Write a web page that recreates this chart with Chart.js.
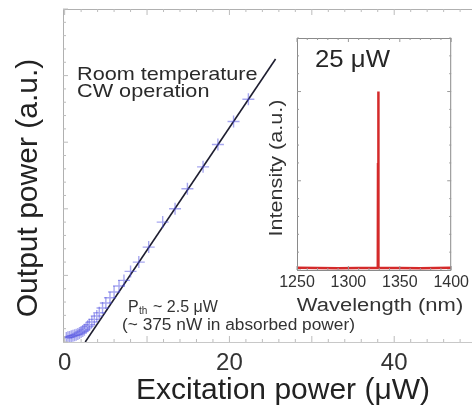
<!DOCTYPE html>
<html>
<head>
<meta charset="utf-8">
<script src="https://cdn.jsdelivr.net/npm/chart.js@4/dist/chart.umd.min.js"></script>
<style>
  html, body { margin: 0; padding: 0; background: #fff; overflow: hidden; }
  #wrap { position: relative; width: 472px; height: 405px; overflow: hidden; background: #fff; }
  #main { position: absolute; left: 0; top: 0; }
  #inset { position: absolute; left: 255px; top: 30px; }
</style>
</head>
<body>
<div id="wrap">
  <canvas id="main" width="484" height="405" style="width:484px;height:405px"></canvas>
  <canvas id="inset" width="217" height="285" style="width:217px;height:285px"></canvas>
</div>
<script>
// ---- data ----
const excitationPower = [0.2,0.4,0.6,0.8,1.0,1.2,1.4,1.6,1.8,2.0,2.2,2.4,2.6,2.8,3.0,3.3,3.6,3.9,4.2,4.6,5.0,5.5,6.0,6.6,7.2,8.0,9.0,10.2,11.9,13.4,14.9,16.8,18.6,20.5,22.3];
const outputPower     = [0.12,0.14,0.15,0.17,0.19,0.2,0.22,0.24,0.27,0.3,0.33,0.37,0.42,0.47,0.52,0.6,0.68,0.78,0.88,1.02,1.17,1.33,1.5,1.68,1.85,2.12,2.4,2.85,3.6,4.0,4.6,5.26,5.93,6.62,7.29];
const fitExcitation   = [2.5, 25.6];
const fitOutput       = [0, 8.5];
const mainXTicks      = [0, 20, 40];
const wavelength      = [1250, 1290, 1328.6, 1328.8, 1329, 1329.2, 1329.4, 1370, 1400];
const intensity       = [0.012, 0.01, 0.012, 0.6, 1.0, 0.6, 0.012, 0.01, 0.012];
const insetXTicks     = [1250, 1300, 1350, 1400];

const FONT = '"Liberation Sans", Arial, sans-serif';

function drawText(ctx, text, x, y, size, opts) {
  opts = opts || {};
  ctx.save();
  ctx.translate(x, y);
  if (opts.rot) ctx.rotate(opts.rot);
  ctx.scale(opts.sx || 1, 1);
  ctx.font = (opts.weight || 'normal') + ' ' + size + 'px ' + FONT;
  ctx.fillStyle = opts.color || '#262626';
  ctx.textAlign = opts.align || 'left';
  ctx.textBaseline = 'alphabetic';
  ctx.fillText(text, 0, 0);
  ctx.restore();
}

function ticksAlong(ctx, scale, from, to, step, majorEvery, fixedPos, horizontal, dir, minorLen, majorLen) {
  for (let v = from; v <= to + 1e-9; v += step) {
    const p = scale.getPixelForValue(v);
    const isMajor = Math.abs(v / majorEvery - Math.round(v / majorEvery)) < 1e-6;
    const len = isMajor ? majorLen : minorLen;
    ctx.beginPath();
    if (horizontal) { ctx.moveTo(p, fixedPos); ctx.lineTo(p, fixedPos + dir * len); }
    else { ctx.moveTo(fixedPos, p); ctx.lineTo(fixedPos + dir * len, p); }
    ctx.stroke();
  }
}

const mainDecor = {
  id: 'mainDecor',
  afterDraw(chart) {
    const ctx = chart.ctx, a = chart.chartArea, x = chart.scales.x, y = chart.scales.y;
    ctx.save();
    ctx.strokeStyle = '#b0b0b0';
    ctx.lineWidth = 1;
    ctx.beginPath();
    ctx.moveTo(a.left + 0.5, a.bottom); ctx.lineTo(a.left + 0.5, a.top + 0.5); ctx.lineTo(a.right, a.top + 0.5);
    ctx.stroke();
    ctx.strokeStyle = '#c8c8c8';
    ctx.beginPath(); ctx.moveTo(a.left, a.bottom + 0.5); ctx.lineTo(a.right, a.bottom + 0.5); ctx.stroke();
    ctx.strokeStyle = '#bcbcbc';
    ticksAlong(ctx, x, 0, 50, 2, 10, a.top, true, 1, 3, 6);
    ticksAlong(ctx, x, 0, 50, 2, 10, a.bottom, true, -1, 3, 6);
    ticksAlong(ctx, y, 0, 10, 0.4, 2, a.left, false, 1, 3, 5);
    ctx.restore();

    drawText(ctx, 'Room temperature', 77, 80, 19, { sx: 1.14, color: '#2a2a2a' });
    drawText(ctx, 'CW operation', 77, 97, 19, { sx: 1.14, color: '#2a2a2a' });
    // Pth annotation
    drawText(ctx, 'P', 128, 312, 16, { color: '#333' });
    drawText(ctx, 'th', 139, 314, 10, { color: '#333' });
    drawText(ctx, '~ 2.5 \u03bcW', 153, 312, 16, { color: '#333' });
    drawText(ctx, '(~ 375 nW in absorbed power)', 122, 330, 16, { sx: 1.08, color: '#333' });

    // axis titles
    drawText(ctx, 'Excitation power (\u03bcW)', 283, 399, 30, { align: 'center', color: '#222' });
    drawText(ctx, 'Output power (a.u.)', 37, 188, 30, { align: 'center', rot: -Math.PI / 2, color: '#222' });
  }
};

new Chart(document.getElementById('main'), {
  type: 'scatter',
  data: {
    datasets: [
      {
        label: 'Measured',
        data: excitationPower.map((v, i) => ({ x: v, y: outputPower[i] })),
        pointStyle: 'cross',
        pointRadius: 6,
        borderColor: 'rgba(80,80,225,0.5)',
        backgroundColor: 'rgba(80,80,225,0.5)',
        borderWidth: 1.4,
        showLine: false
      },
      {
        label: 'Fit',
        data: fitExcitation.map((v, i) => ({ x: v, y: fitOutput[i] })),
        showLine: true,
        pointRadius: 0,
        borderColor: '#1e1e30',
        borderWidth: 1.6
      }
    ]
  },
  options: {
    responsive: false,
    animation: false,
    layout: { padding: { top: 9, right: 3, left: 0, bottom: 0 } },
    plugins: { legend: { display: false }, tooltip: { enabled: false } },
    scales: {
      x: {
        type: 'linear', min: -0.2, max: 50,
        afterBuildTicks: s => { s.ticks = mainXTicks.map(v => ({ value: v })); },
        afterFit: s => { s.height = 63; },
        grid: { display: false, drawTicks: false },
        border: { display: false },
        ticks: { font: { family: FONT, size: 24 }, color: '#333', padding: 7, maxRotation: 0, callback: v => String(v) }
      },
      y: {
        type: 'linear', min: 0, max: 10,
        afterFit: s => { s.width = 63; },
        grid: { display: false, drawTicks: false },
        border: { display: false },
        ticks: { display: false }
      }
    }
  },
  plugins: [mainDecor]
});

const insetDecor = {
  id: 'insetDecor',
  beforeDatasetsDraw(chart) {
    const ctx = chart.ctx, a = chart.chartArea;
    ctx.save();
    ctx.fillStyle = '#fff';
    ctx.fillRect(a.left, a.top, a.right - a.left, a.bottom - a.top);
    ctx.restore();
  },
  afterDraw(chart) {
    const ctx = chart.ctx, a = chart.chartArea, x = chart.scales.x, y = chart.scales.y;
    ctx.save();
    ctx.strokeStyle = '#8a8a8a';
    ctx.lineWidth = 1;
    ctx.strokeRect(a.left + 0.5, a.top + 0.5, a.right - a.left - 1, a.bottom - a.top);
    ctx.strokeStyle = '#9a9a9a';
    ticksAlong(ctx, x, 1250, 1400, 10, 50, a.top, true, 1, 2, 4);
    ticksAlong(ctx, x, 1250, 1400, 10, 50, a.bottom, true, -1, 2, 4);
    ticksAlong(ctx, y, 0, 1.3, 0.1, 0.5, a.left, false, 1, 2, 4);
    ticksAlong(ctx, y, 0, 1.3, 0.1, 0.5, a.right, false, -1, 2, 4);
    ctx.restore();
    drawText(ctx, '25 \u03bcW', 315 - 255, 67 - 30, 23, { sx: 1.12, color: '#262626' });
    drawText(ctx, 'Wavelength (nm)', 380 - 255, 311 - 30, 18, { sx: 1.22, align: 'center', color: '#333' });
    drawText(ctx, 'Intensity (a.u.)', 282 - 255, 168 - 30, 18, { sx: 1.2, align: 'center', rot: -Math.PI / 2, color: '#333' });
  }
};

new Chart(document.getElementById('inset'), {
  type: 'scatter',
  data: {
    datasets: [{
      label: 'Spectrum',
      data: wavelength.map((v, i) => ({ x: v, y: intensity[i] })),
      showLine: true,
      pointRadius: 0,
      borderColor: '#d42a2a',
      borderWidth: 2.5
    }]
  },
  options: {
    responsive: false,
    animation: false,
    layout: { padding: { top: 8, right: 17, left: 0, bottom: 0 } },
    plugins: { legend: { display: false }, tooltip: { enabled: false } },
    scales: {
      x: {
        type: 'linear', min: 1250, max: 1400,
        afterBuildTicks: s => { s.ticks = insetXTicks.map(v => ({ value: v })); },
        afterFit: s => { s.height = 45; },
        grid: { display: false, drawTicks: false },
        border: { display: false },
        ticks: { font: { family: FONT, size: 16 }, color: '#333', padding: 3, maxRotation: 0, autoSkip: false, callback: v => String(v) }
      },
      y: {
        type: 'linear', min: 0, max: 1.3,
        afterFit: s => { s.width = 42; },
        grid: { display: false, drawTicks: false },
        border: { display: false },
        ticks: { display: false }
      }
    }
  },
  plugins: [insetDecor]
});
</script>
</body>
</html>
